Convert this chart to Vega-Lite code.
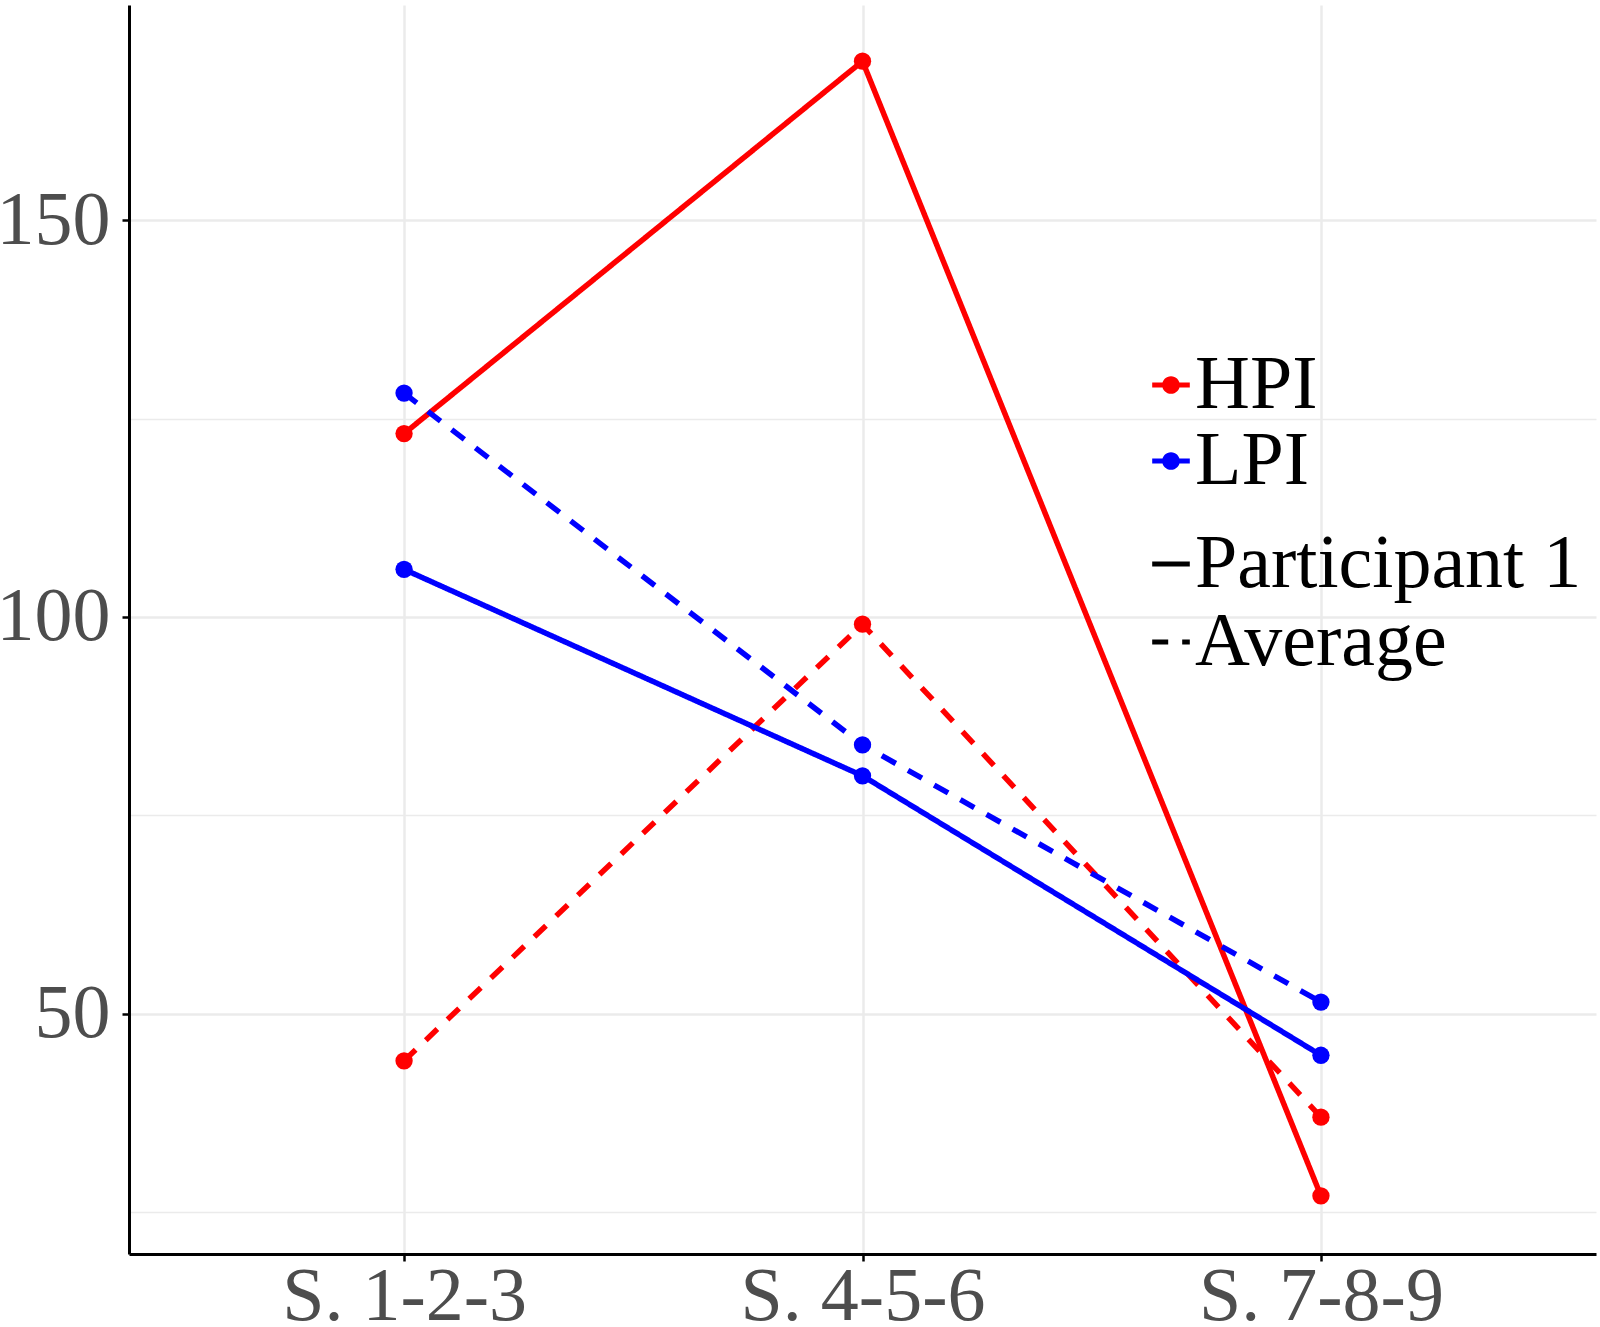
{
  "$schema": "https://vega.github.io/schema/vega-lite/v6.json",
  "width": 1467,
  "height": 1249,
  "autosize": {"type": "none"},
  "padding": {"left": 129, "top": 5, "right": 4, "bottom": 73},
  "background": "white",
  "config": {
    "view": {"stroke": null},
    "font": "Liberation Serif",
    "legend": {"padding": 0, "titlePadding": 0}
  },
  "data": {
    "values": [
      {"group": "HPI", "type": "Participant 1", "session": "S. 1-2-3", "value": 123.1},
      {"group": "HPI", "type": "Participant 1", "session": "S. 4-5-6", "value": 170.0},
      {"group": "HPI", "type": "Participant 1", "session": "S. 7-8-9", "value": 27.1},
      {"group": "HPI", "type": "Average", "session": "S. 1-2-3", "value": 44.1},
      {"group": "HPI", "type": "Average", "session": "S. 4-5-6", "value": 99.1},
      {"group": "HPI", "type": "Average", "session": "S. 7-8-9", "value": 37.0},
      {"group": "LPI", "type": "Participant 1", "session": "S. 1-2-3", "value": 106.0},
      {"group": "LPI", "type": "Participant 1", "session": "S. 4-5-6", "value": 80.0},
      {"group": "LPI", "type": "Participant 1", "session": "S. 7-8-9", "value": 44.8},
      {"group": "LPI", "type": "Average", "session": "S. 1-2-3", "value": 128.2},
      {"group": "LPI", "type": "Average", "session": "S. 4-5-6", "value": 83.9},
      {"group": "LPI", "type": "Average", "session": "S. 7-8-9", "value": 51.5}
    ]
  },
  "encoding": {
    "x": {
      "field": "session",
      "type": "ordinal",
      "sort": ["S. 1-2-3", "S. 4-5-6", "S. 7-8-9"],
      "scale": {"type": "point", "padding": 0.6},
      "axis": {
        "title": null,
        "labelFont": "Liberation Serif",
        "labelFontSize": 76,
        "labelColor": "#4d4d4d",
        "labelPadding": -2,
        "labelAngle": 0,
        "labelLimit": 0,
        "domainColor": "black",
        "domainWidth": 3,
        "tickColor": "black",
        "tickWidth": 2.5,
        "tickSize": 7,
        "grid": true,
        "gridColor": "#ebebeb",
        "gridWidth": 2.5
      }
    },
    "y": {
      "field": "value",
      "type": "quantitative",
      "scale": {"domain": [19.77, 177.08], "nice": false, "zero": false},
      "axis": {
        "title": null,
        "values": [25, 50, 75, 100, 125, 150],
        "labelExpr": "datum.value % 50 === 0 ? datum.label : ''",
        "labelFont": "Liberation Serif",
        "labelFontSize": 76,
        "labelColor": "#4d4d4d",
        "labelPadding": 12,
        "labelLimit": 0,
        "domainColor": "black",
        "domainWidth": 3,
        "tickColor": "black",
        "tickWidth": 2.5,
        "tickSize": 7,
        "tickOpacity": {"condition": {"test": "datum.value % 50 === 0", "value": 1}, "value": 0},
        "grid": true,
        "gridColor": "#ebebeb",
        "gridWidth": {"condition": {"test": "datum.value % 50 === 0", "value": 2.5}, "value": 1.3}
      }
    },
    "color": {
      "field": "group",
      "type": "nominal",
      "scale": {"domain": ["HPI", "LPI"], "range": ["#ff0000", "#0000ff"]},
      "legend": {
        "title": null,
        "orient": "none",
        "legendX": 1004,
        "legendY": 342,
        "labelFont": "Liberation Serif",
        "labelFontSize": 76,
        "labelColor": "black",
        "labelOffset": -14,
        "labelLimit": 0,
        "rowPadding": -13,
        "symbolType": "M-1,-0.13H1V0.13H-1Z M0.47,0A0.47,0.47,0,1,1,-0.47,0A0.47,0.47,0,1,1,0.47,0Z",
        "symbolSize": 1414,
        "symbolStrokeWidth": 0,
        "symbolOpacity": 1,
        "encode": {
          "symbols": {
            "update": {
              "fill": {"scale": "color", "field": "value"},
              "fillOpacity": {"value": 1},
              "stroke": {"value": "transparent"},
              "strokeWidth": {"value": 0},
              "opacity": {"value": 1}
            }
          }
        }
      }
    }
  },
  "layer": [
    {
      "mark": {"type": "line", "strokeWidth": 5.5},
      "encoding": {
        "strokeDash": {
          "field": "type",
          "type": "nominal",
          "scale": {"domain": ["Participant 1", "Average"], "range": [[1, 0], [16, 14]]},
          "legend": {
            "title": null,
            "orient": "none",
            "legendX": 1004,
            "legendY": 521,
            "labelFont": "Liberation Serif",
            "labelFontSize": 76,
            "labelColor": "black",
            "labelOffset": -14,
            "labelLimit": 0,
            "rowPadding": 2,
            "symbolType": "stroke",
            "symbolSize": 1414,
            "symbolStrokeColor": "black",
            "symbolStrokeWidth": 5
          }
        }
      }
    },
    {
      "mark": {"type": "point", "filled": true, "size": 300, "opacity": 1}
    }
  ]
}
